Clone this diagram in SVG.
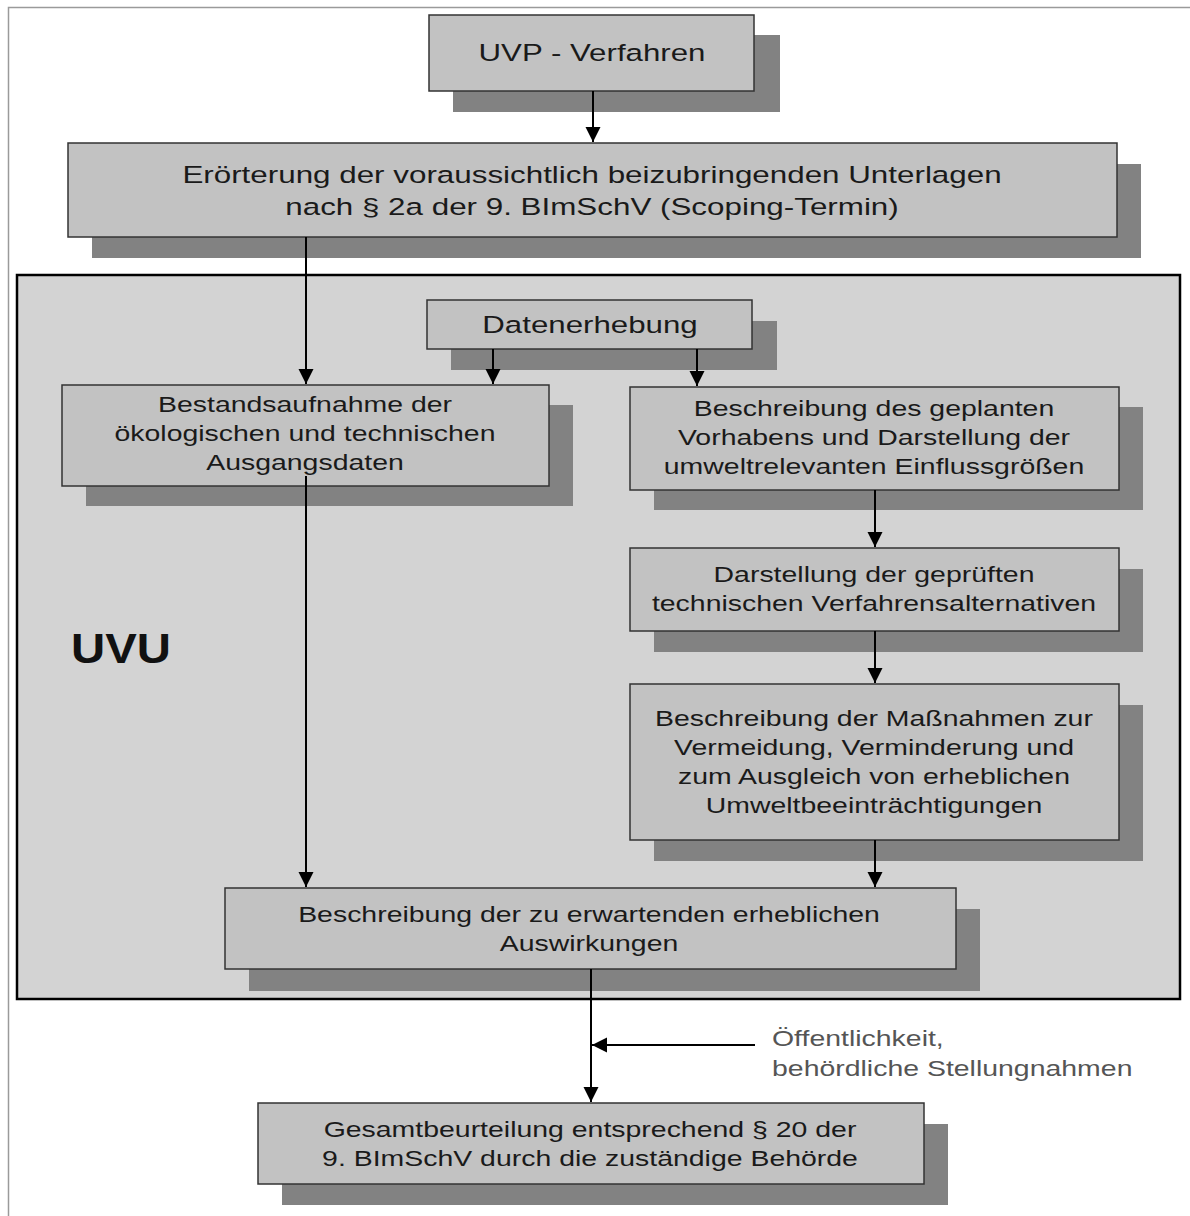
<svg xmlns="http://www.w3.org/2000/svg" width="1190" height="1216" viewBox="0 0 1190 1216">
<style>
.box{fill:#c2c2c2;stroke:#333;stroke-width:1.5}
.sh{fill:#828282}
.t{font-family:"Liberation Sans",Arial,sans-serif;fill:#1a1a1a;text-anchor:middle}
.big{font-size:23.5px}
.mid{font-size:21.4px}
.side{font-family:"Liberation Sans",Arial,sans-serif;font-size:21.4px;fill:#555}
.con{stroke:#000;stroke-width:2;fill:none;marker-end:url(#ah)}
</style>
<defs>
<marker id="ah" markerUnits="userSpaceOnUse" markerWidth="15" markerHeight="16" viewBox="0 0 15 16" refX="15" refY="7.5" orient="auto">
<path d="M0,0 L15,7.5 L0,15 Z" fill="#000"/>
</marker>
</defs>
<rect width="1190" height="1216" fill="#fff"/>
<rect x="8.5" y="7.5" width="1200" height="1230" fill="none" stroke="#9a9a9a" stroke-width="1.5"/>

<g id="uvu-frame">
<rect x="17" y="275" width="1163" height="724" fill="#d3d3d3" stroke="#000" stroke-width="2.5"/>
<text x="0" y="663" transform="translate(71 0) scale(1.1 1)" style="font-family:'Liberation Sans',Arial,sans-serif;font-weight:bold;font-size:43px;fill:#111">UVU</text>
</g>

<g id="uvp">
<rect class="sh" x="453" y="35" width="327" height="77"/>
<rect class="box" x="429" y="15" width="325" height="76"/>
<text class="t big" x="0" y="61" transform="translate(592 0) scale(1.33 1)">UVP - Verfahren</text>
</g>

<g id="eroerterung">
<rect class="sh" x="92" y="164" width="1049" height="94"/>
<rect class="box" x="68" y="143" width="1049" height="94"/>
<text class="t big" x="0" y="183" transform="translate(592 0) scale(1.335 1)">Erörterung der voraussichtlich beizubringenden Unterlagen</text>
<text class="t big" x="0" y="215" transform="translate(592 0) scale(1.335 1)">nach § 2a der 9. BImSchV (Scoping-Termin)</text>
</g>

<g id="datenerhebung">
<rect class="sh" x="451" y="321" width="326" height="49"/>
<rect class="box" x="427" y="300" width="325" height="49"/>
<text class="t big" x="0" y="333" transform="translate(590 0) scale(1.33 1)">Datenerhebung</text>
</g>

<g id="bestandsaufnahme">
<rect class="sh" x="86" y="405" width="487" height="101"/>
<rect class="box" x="62" y="385" width="487" height="101"/>
<text class="t mid" x="0" y="412" transform="translate(305 0) scale(1.33 1)">Bestandsaufnahme der</text>
<text class="t mid" x="0" y="441" transform="translate(305 0) scale(1.33 1)">ökologischen und technischen</text>
<text class="t mid" x="0" y="470" transform="translate(305 0) scale(1.33 1)">Ausgangsdaten</text>
</g>

<g id="vorhaben">
<rect class="sh" x="654" y="407" width="489" height="103"/>
<rect class="box" x="630" y="387" width="489" height="103"/>
<text class="t mid" x="0" y="416" transform="translate(874 0) scale(1.33 1)">Beschreibung des geplanten</text>
<text class="t mid" x="0" y="445" transform="translate(874 0) scale(1.33 1)">Vorhabens und Darstellung der</text>
<text class="t mid" x="0" y="474" transform="translate(874 0) scale(1.33 1)">umweltrelevanten Einflussgrößen</text>
</g>

<g id="alternativen">
<rect class="sh" x="654" y="569" width="489" height="83"/>
<rect class="box" x="630" y="548" width="489" height="83"/>
<text class="t mid" x="0" y="582" transform="translate(874 0) scale(1.33 1)">Darstellung der geprüften</text>
<text class="t mid" x="0" y="611" transform="translate(874 0) scale(1.33 1)">technischen Verfahrensalternativen</text>
</g>

<g id="massnahmen">
<rect class="sh" x="654" y="705" width="489" height="156"/>
<rect class="box" x="630" y="684" width="489" height="156"/>
<text class="t mid" x="0" y="726" transform="translate(874 0) scale(1.33 1)">Beschreibung der Maßnahmen zur</text>
<text class="t mid" x="0" y="755" transform="translate(874 0) scale(1.33 1)">Vermeidung, Verminderung und</text>
<text class="t mid" x="0" y="784" transform="translate(874 0) scale(1.33 1)">zum Ausgleich von erheblichen</text>
<text class="t mid" x="0" y="813" transform="translate(874 0) scale(1.33 1)">Umweltbeeinträchtigungen</text>
</g>

<g id="auswirkungen">
<rect class="sh" x="249" y="909" width="731" height="82"/>
<rect class="box" x="225" y="888" width="731" height="81"/>
<text class="t mid" x="0" y="922" transform="translate(589 0) scale(1.33 1)">Beschreibung der zu erwartenden erheblichen</text>
<text class="t mid" x="0" y="951" transform="translate(589 0) scale(1.33 1)">Auswirkungen</text>
</g>

<g id="gesamtbeurteilung">
<rect class="sh" x="282" y="1124" width="666" height="81"/>
<rect class="box" x="258" y="1103" width="666" height="81"/>
<text class="t mid" x="0" y="1137" transform="translate(590 0) scale(1.33 1)">Gesamtbeurteilung entsprechend § 20 der</text>
<text class="t mid" x="0" y="1166" transform="translate(590 0) scale(1.33 1)">9. BImSchV durch die zuständige Behörde</text>
</g>

<g id="oeffentlichkeit-label">
<text class="side" x="0" y="1046" transform="translate(772 0) scale(1.33 1)">Öffentlichkeit,</text>
<text class="side" x="0" y="1076" transform="translate(772 0) scale(1.33 1)">behördliche Stellungnahmen</text>
</g>

<g id="connectors">
<line class="con" x1="593" y1="91" x2="593" y2="142"/>
<line class="con" x1="306" y1="237" x2="306" y2="384"/>
<line class="con" x1="493" y1="349" x2="493" y2="384"/>
<line class="con" x1="697" y1="349" x2="697" y2="386"/>
<line class="con" x1="306" y1="476" x2="306" y2="887"/>
<line class="con" x1="875" y1="490" x2="875" y2="547"/>
<line class="con" x1="875" y1="631" x2="875" y2="683"/>
<line class="con" x1="875" y1="840" x2="875" y2="887"/>
<line class="con" x1="591" y1="969" x2="591" y2="1102"/>
<line class="con" x1="755" y1="1045" x2="592" y2="1045"/>
</g>
</svg>
